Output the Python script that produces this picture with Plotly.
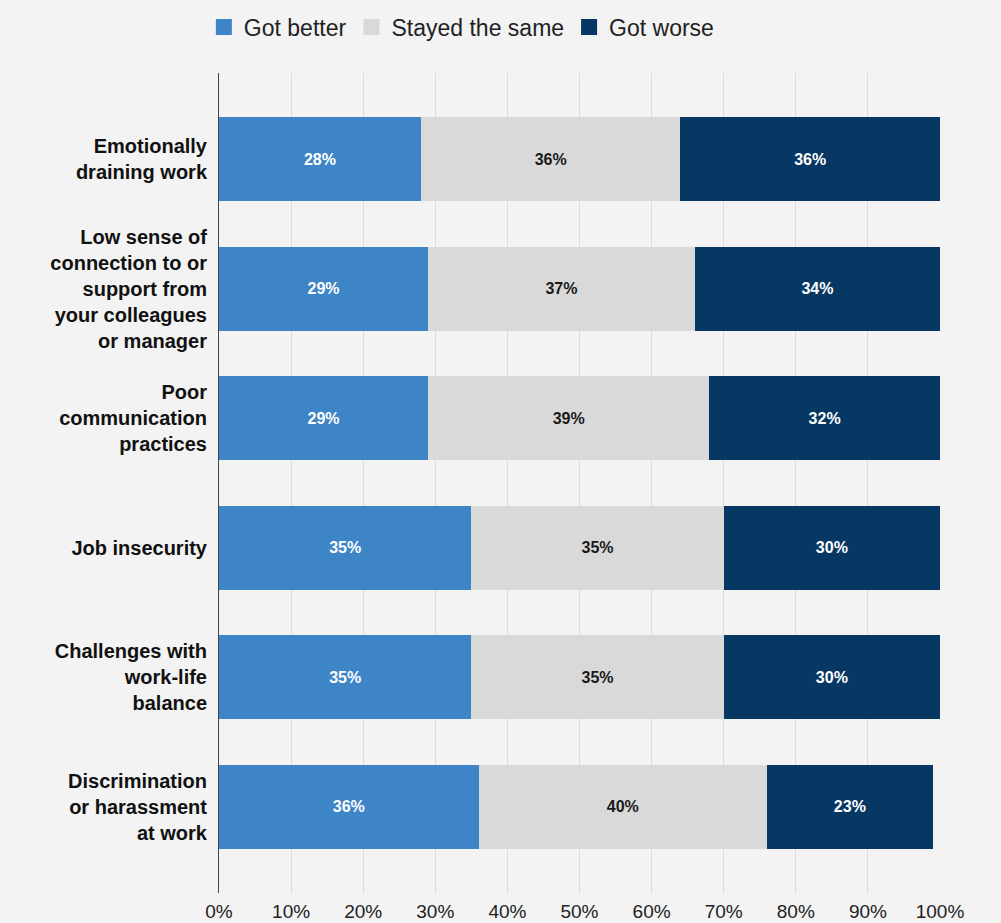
import plotly.graph_objects as go

categories = [
    "Emotionally<br>draining work",
    "Low sense of<br>connection to or<br>support from<br>your colleagues<br>or manager",
    "Poor<br>communication<br>practices",
    "Job insecurity",
    "Challenges with<br>work-life<br>balance",
    "Discrimination<br>or harassment<br>at work",
]
got_better = [28, 29, 29, 35, 35, 36]
stayed_same = [36, 37, 39, 35, 35, 40]
got_worse = [36, 34, 32, 30, 30, 23]

series = [
    ("Got better", got_better, "#3d85c6", "#ffffff"),
    ("Stayed the same", stayed_same, "#d9d9d9", "#1a1a1a"),
    ("Got worse", got_worse, "#073763", "#ffffff"),
]

fig = go.Figure()
for name, vals, color, txt in series:
    fig.add_trace(
        go.Bar(
            y=categories,
            x=vals,
            name=name,
            orientation="h",
            marker=dict(color=color, line=dict(width=0)),
            width=0.648,
            text=[f"{v}%" for v in vals],
            textposition="inside",
            insidetextanchor="middle",
            textangle=0,
            insidetextfont=dict(family="Liberation Sans, Arial", size=16, color=txt, weight="bold"),
            hoverinfo="skip",
            showlegend=False,
        )
    )

# legend entries with bigger square swatches
for name, vals, color, txt in series:
    fig.add_trace(
        go.Scatter(
            x=[None],
            y=[None],
            mode="markers",
            name=name,
            marker=dict(symbol="square", size=16, color=color, line=dict(width=0)),
            hoverinfo="skip",
        )
    )

fig.update_layout(
    barmode="stack",
    width=1001,
    height=923,
    margin=dict(l=219, r=61, t=73, b=30, autoexpand=False),
    paper_bgcolor="#f3f3f3",
    plot_bgcolor="#f3f3f3",
    font=dict(family="Liberation Sans, Arial", color="#222222"),
    showlegend=True,
    legend=dict(
        orientation="h",
        x=-0.021,
        xanchor="left",
        y=1.056,
        yanchor="middle",
        font=dict(size=23, color="#222222"),
        traceorder="normal",
        itemsizing="trace",
        bgcolor="rgba(0,0,0,0)",
    ),
    xaxis=dict(
        range=[0, 100],
        dtick=10,
        ticksuffix="%",
        showgrid=True,
        gridcolor="#dcdcdc",
        gridwidth=1,
        zeroline=False,
        showline=False,
        ticks="",
        ticklabelstandoff=5,
        tickfont=dict(size=19, color="#222222"),
        automargin=False,
    ),
    yaxis=dict(
        range=[5.664, -0.664],
        showline=True,
        linecolor="#444444",
        linewidth=1,
        showgrid=False,
        ticks="",
        ticklabelstandoff=7,
        tickfont=dict(size=20, color="#111111", weight="bold"),
        automargin=False,
    ),
)

fig.write_html(
    "out.html",
    config={"displayModeBar": False},
    post_script="document.body.style.margin='0';document.body.style.overflow='hidden';",
)
